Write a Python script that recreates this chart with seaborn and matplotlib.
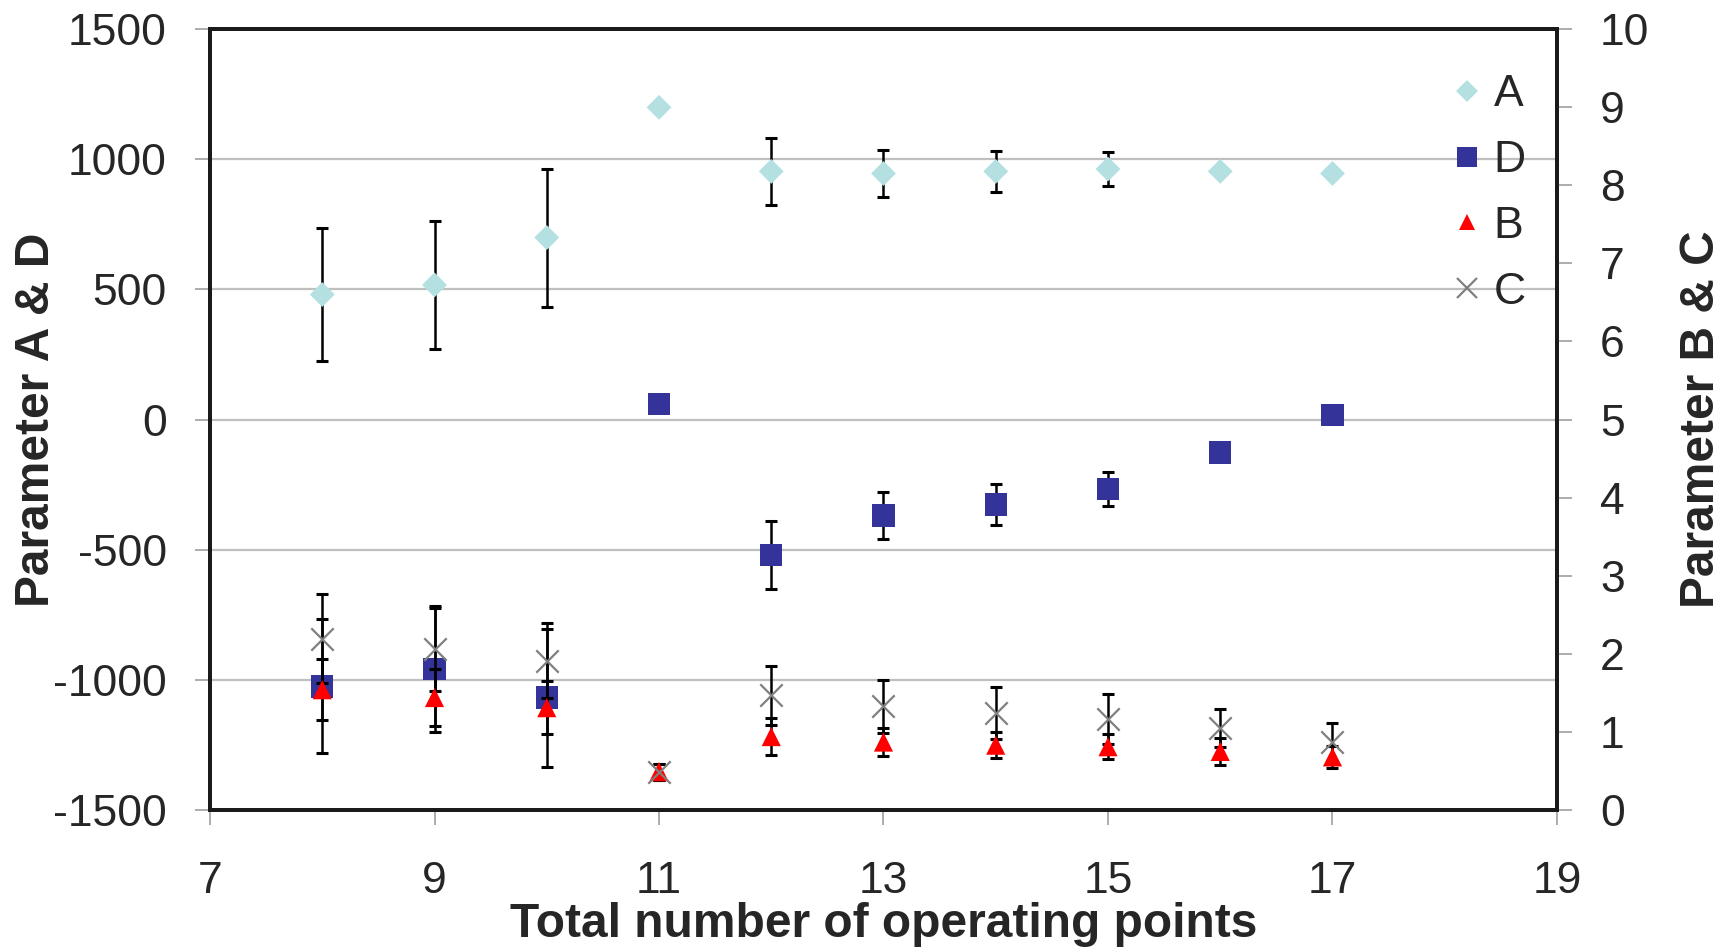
import matplotlib
matplotlib.use("Agg")
import matplotlib.pyplot as plt
from matplotlib.lines import Line2D
import seaborn as sns
import pandas as pd
import numpy as np

# ---- data ----
points = [8, 9, 10, 11, 12, 13, 14, 15, 16, 17]
A_vals = [480, 517, 699, 1199, 953, 945, 953, 962, 953, 945]
A_err = [256, 245, 265, 0, 130, 89, 80, 65, 15, 0]
D_vals = [-1025, -958, -1068, 59, -521, -369, -326, -267, -127, 17]
D_err = [257, 243, 265, 0, 130, 90, 78, 64, 0, 0]
B_vals = [1.54, 1.44, 1.31, 0.49, 0.94, 0.87, 0.83, 0.81, 0.75, 0.68]
B_err = [0.39, 0.36, 0.34, 0.10, 0.24, 0.18, 0.17, 0.16, 0.17, 0.14]
C_vals = [2.19, 2.06, 1.91, 0.49, 1.47, 1.33, 1.24, 1.17, 1.05, 0.87]
C_err = [0.57, 0.53, 0.48, 0.10, 0.38, 0.34, 0.33, 0.32, 0.24, 0.24]

x_ticks = [7, 9, 11, 13, 15, 17, 19]
left_ticks = [-1500, -1000, -500, 0, 500, 1000, 1500]
right_ticks = list(range(0, 11))

series_labels = ["A", "D", "B", "C"]
colors = {"A": "#B4E0E2", "D": "#333399", "B": "#FF0000", "C": "#808080"}

sns.set_style("white")
plt.rcParams["font.family"] = ["Liberation Sans", "DejaVu Sans"]

df = pd.DataFrame({"n": points, "A": A_vals, "A_err": A_err, "D": D_vals, "D_err": D_err,
                   "B": B_vals, "B_err": B_err, "C": C_vals, "C_err": C_err})

W, H = 1733, 948
fig = plt.figure(figsize=(W / 100, H / 100), dpi=100)
ax = fig.add_axes([210 / W, 1 - 810 / H, (1557 - 210) / W, (810 - 29) / H])
ax2 = ax.twinx()

FS = 32
tick_gray = "#A6A6A6"


def draw_err(axis, col, ecol):
    sub = df[df[ecol] > 0]
    axis.errorbar(sub["n"], sub[col], yerr=sub[ecol], fmt="none", ecolor="black",
                  elinewidth=1.8, capsize=4.5, capthick=2.2, zorder=2)


# Left axis: A and D
draw_err(ax, "A", "A_err")
sns.scatterplot(data=df, x="n", y="A", marker="D", s=160, color=colors["A"],
                edgecolor="none", ax=ax, zorder=3)
draw_err(ax, "D", "D_err")
sns.scatterplot(data=df, x="n", y="D", marker="s", s=260, color=colors["D"],
                edgecolor="none", ax=ax, zorder=3)

# Right axis: B and C
sns.scatterplot(data=df, x="n", y="B", marker="^", s=190, color=colors["B"],
                edgecolor="none", ax=ax2, zorder=3)
sns.scatterplot(data=df, x="n", y="C", marker="x", s=260, color=colors["C"],
                linewidth=1.6, ax=ax2, zorder=3)
draw_err(ax2, "B", "B_err")
draw_err(ax2, "C", "C_err")

# axes limits / ticks
ax.set_xlim(7, 19)
ax.set_ylim(-1500, 1500)
ax2.set_ylim(0, 10)
ax.set_xticks(x_ticks)
ax.set_yticks(left_ticks)
ax2.set_yticks(right_ticks)
ax.set_xticklabels([str(t) for t in x_ticks])
ax.set_yticklabels([str(t) for t in left_ticks])
ax2.set_yticklabels([str(t) for t in right_ticks])

ax.yaxis.grid(True, color="#BFBFBF", linewidth=1.6)
ax.xaxis.grid(False)
ax.set_axisbelow(True)

for a in (ax, ax2):
    for sp in a.spines.values():
        sp.set_color("#1a1a1a")
        sp.set_linewidth(2.8)
        sp.set_visible(True)

ax.tick_params(axis="y", which="major", direction="out", length=11, width=1.3,
               color=tick_gray, labelsize=FS, pad=20, left=True)
ax.tick_params(axis="x", which="major", direction="out", length=11, width=1.3,
               color=tick_gray, labelsize=FS, pad=26, bottom=True)
ax2.tick_params(axis="y", which="major", direction="out", length=11, width=1.3,
                color=tick_gray, labelsize=FS, pad=20, right=True)

ax.set_xlabel("Total number of operating points", fontsize=34.5, fontweight="bold", labelpad=0)
ax.set_ylabel("Parameter A & D", fontsize=34.5, fontweight="bold", labelpad=-4)
ax2.set_ylabel("Parameter B & C", fontsize=34.5, fontweight="bold", labelpad=21)

handles = [
    Line2D([], [], linestyle="none", marker="D", markersize=11, color=colors["A"], markeredgewidth=0),
    Line2D([], [], linestyle="none", marker="s", markersize=15, color=colors["D"], markeredgewidth=0),
    Line2D([], [], linestyle="none", marker="^", markersize=12, color=colors["B"], markeredgewidth=0),
    Line2D([], [], linestyle="none", marker="x", markersize=15, color=colors["C"], markeredgewidth=1.6),
]
leg = ax2.legend(handles, series_labels, loc="upper right", bbox_to_anchor=(1.0, 0.982),
                 frameon=False, fontsize=FS, handlelength=0.6, handletextpad=0.3,
                 labelspacing=0.56, borderaxespad=0.3)

fig.savefig("out.png", dpi=100, facecolor="white")
